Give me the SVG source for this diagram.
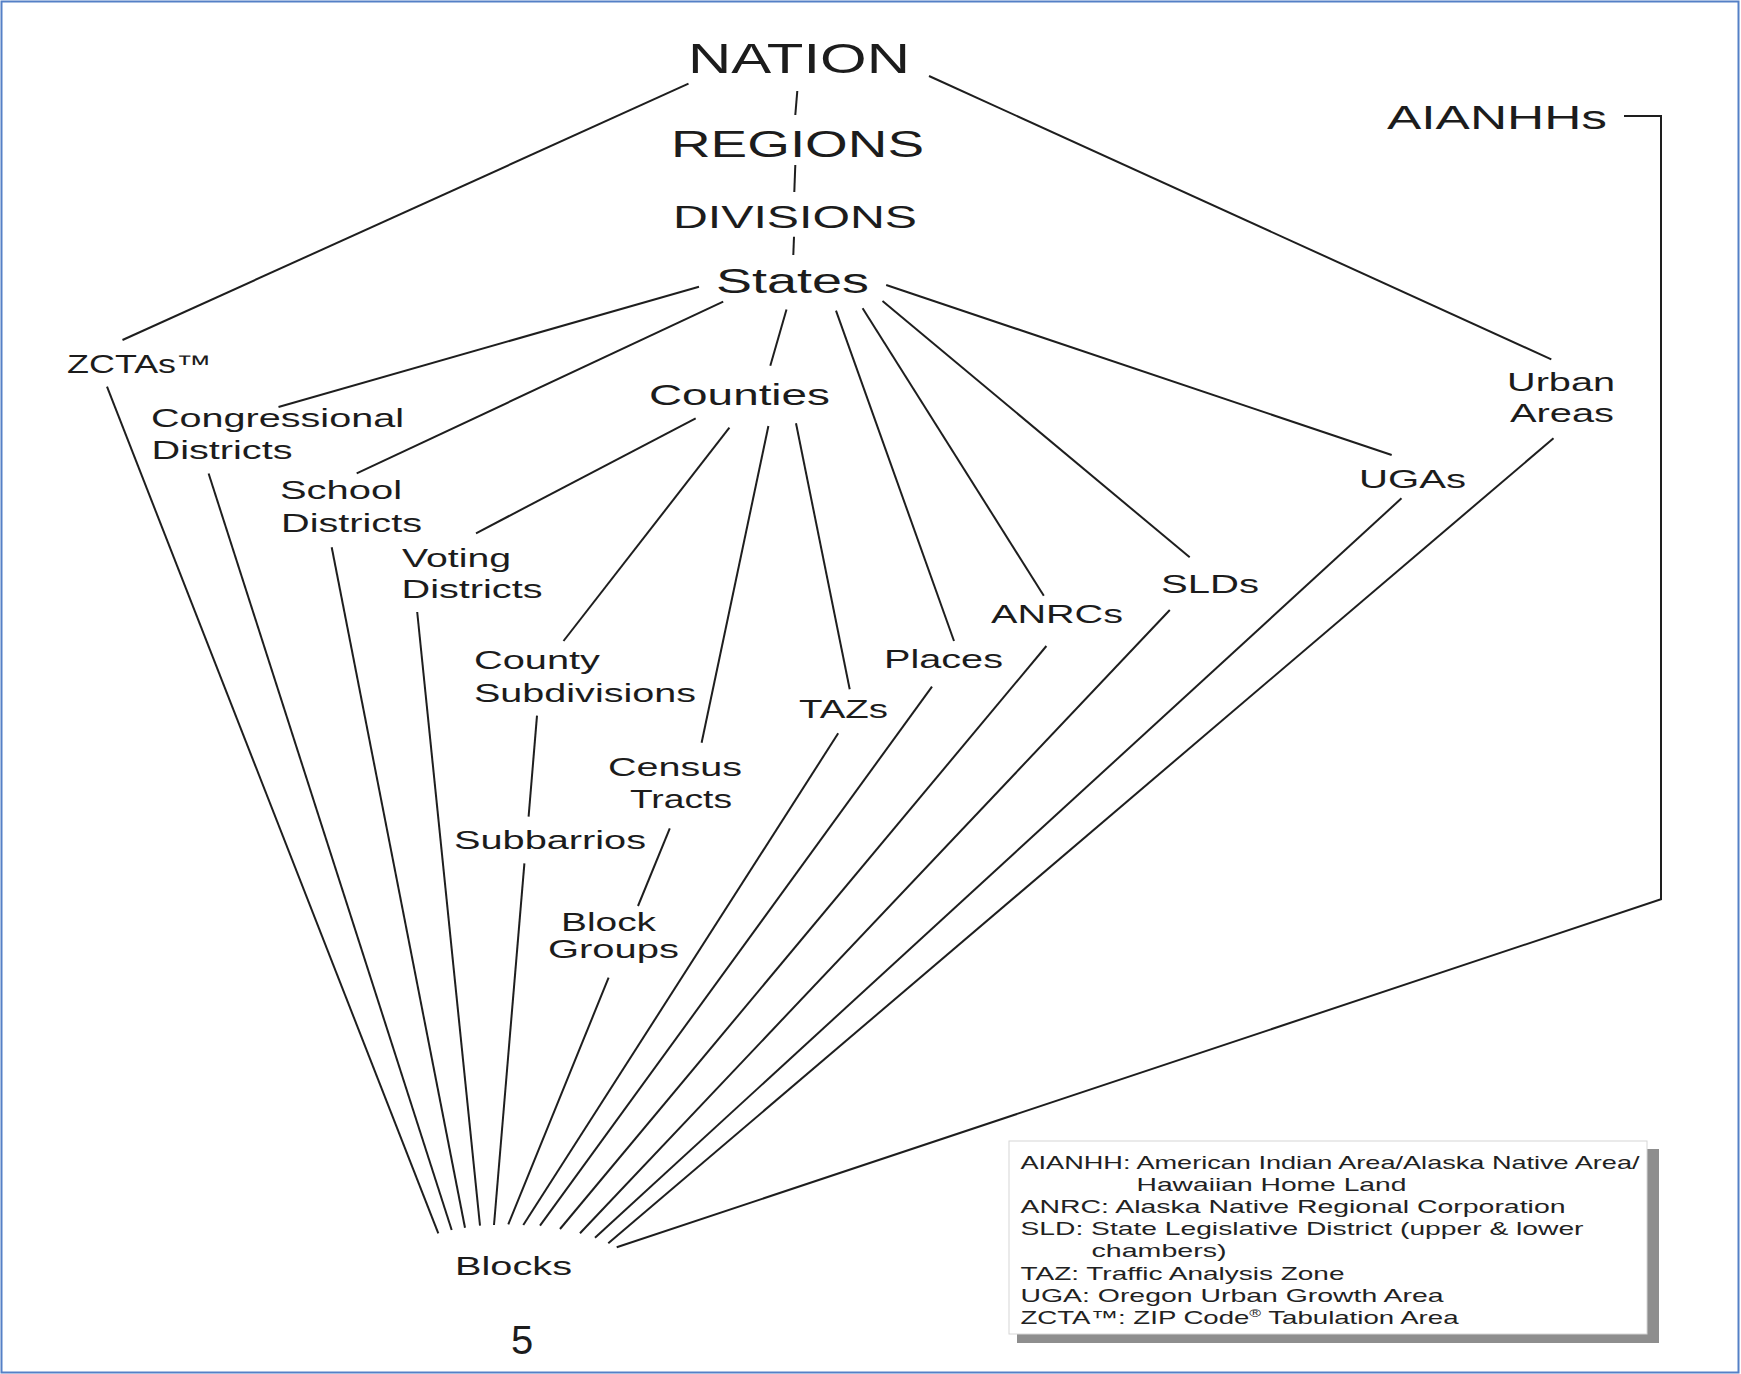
<svg xmlns="http://www.w3.org/2000/svg" width="1741" height="1374" viewBox="0 0 1741 1374">
<style>
text{font-family:"Liberation Sans",Arial,Helvetica,sans-serif;fill:#1c1c1c}
.n{font-size:26px}
.leg{font-size:19px;fill:#222}
.c line,.c polyline{stroke:#1e1e1e;stroke-width:2;fill:none;stroke-linecap:butt}
</style>
<rect x="0" y="0" width="1741" height="1374" fill="#ffffff"/>
<rect x="1.5" y="1.5" width="1737" height="1371" fill="none" stroke="#5580c6" stroke-width="2"/>
<g class="c" id="connectors">
<line x1="797.3" y1="91" x2="795.3" y2="115"/>
<line x1="795.3" y1="165" x2="794.3" y2="192"/>
<line x1="794" y1="236.7" x2="793.3" y2="255"/>
<line x1="688.5" y1="83.7" x2="122.5" y2="340"/>
<line x1="929" y1="76" x2="1551.3" y2="359.3"/>
<line x1="699" y1="286.7" x2="278.5" y2="407"/>
<line x1="723.2" y1="301.7" x2="356.7" y2="473.3"/>
<line x1="786.5" y1="309.5" x2="770.3" y2="365.7"/>
<line x1="836" y1="310.7" x2="954" y2="641"/>
<line x1="862.6" y1="308.3" x2="1043.8" y2="595.7"/>
<line x1="882.5" y1="301" x2="1189.7" y2="557.3"/>
<line x1="886.2" y1="285" x2="1391.7" y2="455"/>
<line x1="695.7" y1="418.3" x2="476" y2="533.3"/>
<line x1="729.4" y1="427.7" x2="563.5" y2="641"/>
<line x1="768.4" y1="426" x2="701.6" y2="742.7"/>
<line x1="796" y1="423.3" x2="849.7" y2="689.3"/>
<line x1="537" y1="715.7" x2="528.6" y2="816.7"/>
<line x1="669.8" y1="828.3" x2="638" y2="906"/>
<polyline points="1624,116 1661,116 1661,899.3 616.7,1247.3"/>
<line x1="107" y1="386.7" x2="438.3" y2="1233.3"/>
<line x1="208.6" y1="473.5" x2="451.7" y2="1230"/>
<line x1="331.7" y1="547.3" x2="465" y2="1227.7"/>
<line x1="417.2" y1="612" x2="480" y2="1225.7"/>
<line x1="524.4" y1="863.3" x2="494" y2="1225"/>
<line x1="608.6" y1="977.7" x2="508.3" y2="1224.3"/>
<line x1="838.2" y1="733.3" x2="523.3" y2="1225"/>
<line x1="932" y1="686.7" x2="540" y2="1225.7"/>
<line x1="1046.4" y1="646" x2="560" y2="1229"/>
<line x1="1169.8" y1="610" x2="580" y2="1233.3"/>
<line x1="1401.5" y1="498.3" x2="595" y2="1237.7"/>
<line x1="1553.5" y1="438.3" x2="608.3" y2="1243.3"/>
</g>
<g id="nation"><text x="688" y="73" font-size="42.5" textLength="222" lengthAdjust="spacingAndGlyphs">NATION</text></g>
<g id="regions"><text x="671" y="156.7" font-size="37" textLength="253" lengthAdjust="spacingAndGlyphs">REGIONS</text></g>
<g id="divisions"><text x="673" y="228" font-size="32" textLength="244" lengthAdjust="spacingAndGlyphs">DIVISIONS</text></g>
<g id="states"><text x="716" y="293" font-size="35" textLength="153" lengthAdjust="spacingAndGlyphs">States</text></g>
<g id="aianhhs"><text x="1387" y="129.3" font-size="34" textLength="220" lengthAdjust="spacingAndGlyphs">AIANHHs</text></g>
<g id="zctas"><text x="67" y="373.3" font-size="25.5" textLength="145" lengthAdjust="spacingAndGlyphs">ZCTAs™</text></g>
<g id="congressional-districts">
<text class="n" x="151" y="427.3" font-size="25" textLength="253" lengthAdjust="spacingAndGlyphs">Congressional</text>
<text class="n" x="151.5" y="459.3" font-size="25" textLength="141" lengthAdjust="spacingAndGlyphs">Districts</text>
</g>
<g id="school-districts">
<text class="n" x="280" y="499" textLength="122" lengthAdjust="spacingAndGlyphs">School</text>
<text class="n" x="281" y="532.3" textLength="141" lengthAdjust="spacingAndGlyphs">Districts</text>
</g>
<g id="voting-districts">
<text class="n" x="402" y="567" textLength="109" lengthAdjust="spacingAndGlyphs">Voting</text>
<text class="n" x="401.5" y="598.3" textLength="141" lengthAdjust="spacingAndGlyphs">Districts</text>
</g>
<g id="counties"><text x="649" y="405" font-size="30" textLength="181" lengthAdjust="spacingAndGlyphs">Counties</text></g>
<g id="county-subdivisions">
<text class="n" x="474" y="669" textLength="126" lengthAdjust="spacingAndGlyphs">County</text>
<text class="n" x="474" y="701.7" textLength="222" lengthAdjust="spacingAndGlyphs">Subdivisions</text>
</g>
<g id="census-tracts">
<text class="n" x="608" y="775.7" textLength="134" lengthAdjust="spacingAndGlyphs">Census</text>
<text class="n" x="630" y="808.3" textLength="102" lengthAdjust="spacingAndGlyphs">Tracts</text>
</g>
<g id="subbarrios"><text class="n" x="454" y="849" textLength="192" lengthAdjust="spacingAndGlyphs">Subbarrios</text></g>
<g id="block-groups">
<text class="n" x="561" y="931" textLength="95" lengthAdjust="spacingAndGlyphs">Block</text>
<text class="n" x="548" y="958.3" textLength="131" lengthAdjust="spacingAndGlyphs">Groups</text>
</g>
<g id="tazs"><text class="n" x="799" y="717.7" textLength="89" lengthAdjust="spacingAndGlyphs">TAZs</text></g>
<g id="places"><text class="n" x="884" y="668.3" textLength="119" lengthAdjust="spacingAndGlyphs">Places</text></g>
<g id="anrcs"><text class="n" x="991" y="623.3" textLength="132" lengthAdjust="spacingAndGlyphs">ANRCs</text></g>
<g id="slds"><text class="n" x="1161" y="592.7" textLength="98" lengthAdjust="spacingAndGlyphs">SLDs</text></g>
<g id="ugas"><text class="n" x="1359" y="488.3" textLength="107" lengthAdjust="spacingAndGlyphs">UGAs</text></g>
<g id="urban-areas">
<text class="n" x="1507" y="390.7" textLength="108" lengthAdjust="spacingAndGlyphs">Urban</text>
<text class="n" x="1510" y="421.7" textLength="104" lengthAdjust="spacingAndGlyphs">Areas</text>
</g>
<g id="blocks"><text x="455" y="1275" font-size="25.5" textLength="117" lengthAdjust="spacingAndGlyphs">Blocks</text></g>
<g id="legend">
<rect x="1017" y="1149" width="642" height="194" fill="#8e8e8e"/>
<rect x="1009" y="1141" width="638" height="193" fill="#ffffff" stroke="#d6d6d6" stroke-width="1"/>
<text class="leg" x="1020.5" y="1168.5" textLength="619" lengthAdjust="spacingAndGlyphs">AIANHH: American Indian Area/Alaska Native Area/</text>
<text class="leg" x="1136.5" y="1190.7" textLength="270" lengthAdjust="spacingAndGlyphs">Hawaiian Home Land</text>
<text class="leg" x="1020.5" y="1212.9" textLength="545" lengthAdjust="spacingAndGlyphs">ANRC: Alaska Native Regional Corporation</text>
<text class="leg" x="1020.5" y="1235.1" textLength="563" lengthAdjust="spacingAndGlyphs">SLD: State Legislative District (upper &amp; lower</text>
<text class="leg" x="1091.5" y="1257.3" textLength="135" lengthAdjust="spacingAndGlyphs">chambers)</text>
<text class="leg" x="1020.5" y="1279.5" textLength="324" lengthAdjust="spacingAndGlyphs">TAZ: Traffic Analysis Zone</text>
<text class="leg" x="1020.5" y="1301.7" textLength="423" lengthAdjust="spacingAndGlyphs">UGA: Oregon Urban Growth Area</text>
<text class="leg" x="1020.5" y="1323.9" textLength="438" lengthAdjust="spacingAndGlyphs">ZCTA™: ZIP Code<tspan font-size="11" dy="-7">®</tspan><tspan dy="7"> Tabulation Area</tspan></text>
</g>
<g id="page-number"><text x="511" y="1354" font-size="40" fill="#000">5</text></g>
</svg>
